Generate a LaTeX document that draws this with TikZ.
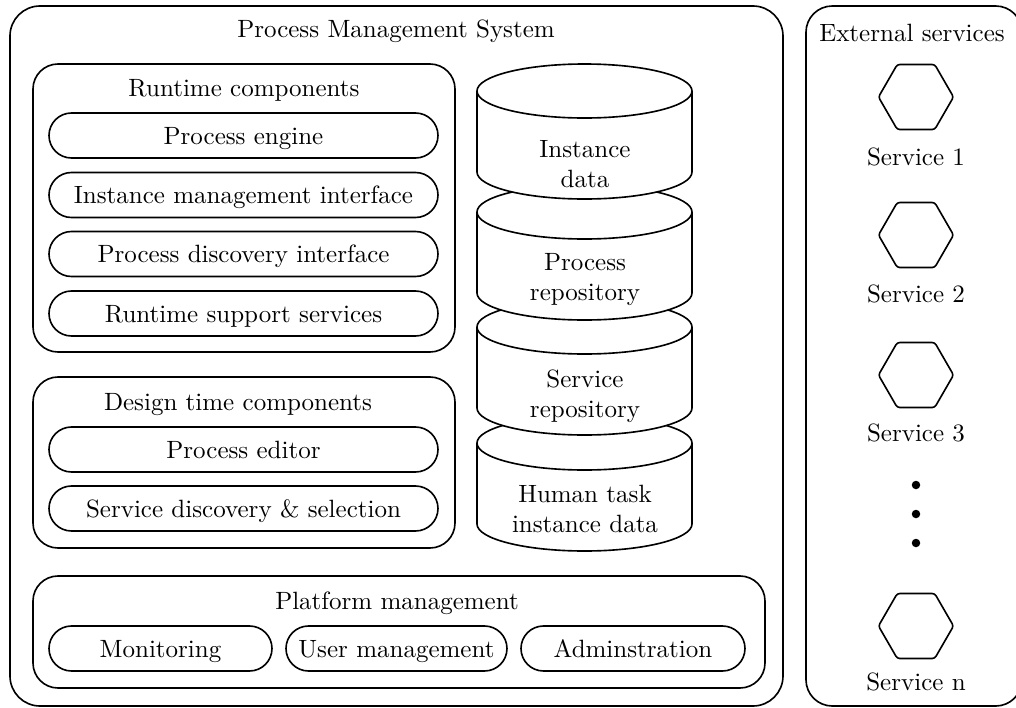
\documentclass[tikz,border=0pt]{standalone}
\usetikzlibrary{shapes.misc,shapes.geometric}
\begin{document}
\begin{tikzpicture}[x=0.4pt,y=0.4pt,line width=0.65pt,
  container/.style={draw,rectangle,rounded corners=10pt,inner sep=0pt},
  bigbox/.style={draw,rectangle,rounded corners=12pt,inner sep=0pt},
  pill/.style={draw,rounded rectangle,inner sep=0pt,minimum height=18pt,text height=7.5pt,text depth=0.5pt},
  hexa/.style={draw,regular polygon,regular polygon sides=6,minimum size=30pt,inner sep=0pt,rounded corners=1pt},
  lbl/.style={inner sep=0pt,align=center},
  dotmark/.style={fill,circle,inner sep=0pt,minimum size=3.4pt}]
\useasboundingbox (0,0) rectangle (1016,-708);
\clip (0,0) rectangle (1016,-708);
% outer boxes
\node[bigbox,minimum width=309.2pt,minimum height=280pt] (pms) at (396.5,-356) {};
\node[lbl] (pmst) at (396,-31) {Process Management System};
\node[bigbox,rounded corners=10.5pt,minimum width=86.4pt,minimum height=280pt] (ext) at (914,-356) {};
\node[lbl] (extt) at (912,-33) {External services};
% runtime
\node[container,minimum width=168.8pt,minimum height=115.2pt] (rt) at (244,-208) {};
\node[lbl] (rtt) at (244,-90) {Runtime components};
\node[pill,minimum width=155.6pt] (pe) at (243.5,-135.5) {Process engine};
\node[pill,minimum width=155.6pt] (imi) at (243.5,-195) {Instance management interface};
\node[pill,minimum width=155.6pt] (pdi) at (243.5,-254) {Process discovery interface};
\node[pill,minimum width=155.6pt] (rss) at (243.5,-313.5) {Runtime support services};
% design
\node[container,minimum width=168.8pt,minimum height=68.4pt] (dt) at (244,-462.5) {};
\node[lbl] (dtt) at (238,-405) {Design time components};
\node[pill,minimum width=155.6pt] (ped) at (243.5,-449.5) {Process editor};
\node[pill,minimum width=155.6pt] (sds) at (243.5,-508.5) {Service discovery \& selection};
% platform
\node[container,minimum width=292.8pt,minimum height=44.8pt] (pm) at (399,-632) {};
\node[lbl] (pmt) at (397,-603) {Platform management};
\node[pill,minimum width=89.2pt] (mon) at (160.5,-648.5) {Monitoring};
\node[pill,minimum width=88.4pt] (um) at (396.5,-648.5) {User management};
\node[pill,minimum width=89.6pt] (adm) at (633,-648.5) {Adminstration};
% cylinders (drawn bottom first)
\foreach \ty/\by in {443/524,327/408,212/293,91/172}{
  \filldraw[fill=white] (477,-\ty) -- (477,-\by) arc[start angle=180,end angle=360,x radius=43pt,y radius=10.8pt] -- (692,-\ty) arc[start angle=0,end angle=180,x radius=43pt,y radius=10.8pt] -- cycle;
  \draw (477,-\ty) arc[start angle=180,end angle=360,x radius=43pt,y radius=10.8pt];
}
\node[lbl] (c1) at (585,-164) {Instance\\data};
\node[lbl] (c2) at (585,-280) {Process\\repository};
\node[lbl] (c3) at (585,-396) {Service\\repository};
\node[lbl] (c4) at (585,-509) {Human task\\instance data};
% services
\node[hexa] (s1) at (916,-97) {};
\node[lbl] (s1l) at (916,-157) {Service 1};
\node[hexa] (s2) at (916,-235) {};
\node[lbl] (s2l) at (916,-294) {Service 2};
\node[hexa] (s3) at (916,-375) {};
\node[lbl] (s3l) at (916,-433) {Service 3};
\node[dotmark] (d1) at (916,-485) {};
\node[dotmark] (d2) at (916,-514) {};
\node[dotmark] (d3) at (916,-543) {};
\node[hexa] (sn) at (916,-626) {};
\node[lbl] (snl) at (916,-682) {Service n};
\end{tikzpicture}
\end{document}
